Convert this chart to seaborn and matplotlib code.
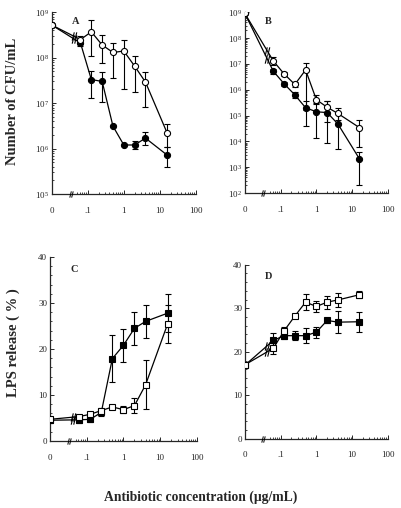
import numpy as np
import matplotlib
matplotlib.use("Agg")
import matplotlib.pyplot as plt
from matplotlib.path import Path
from matplotlib.ticker import FixedLocator, FixedFormatter, NullFormatter, MultipleLocator
import seaborn as sns

# concentrations (ug/mL); 0 = untreated control
conc = np.array([0, 0.0625, 0.125, 0.25, 0.5, 1, 2, 4, 16])

# Panel A - CFU/mL
a_filled = np.array([5.2e8, 2.1e8, 3.3e7, 3.0e7, 3.1e6, 1.2e6, 1.2e6, 1.7e6, 7.2e5])
a_filled_lo = np.array([5.2e8, 1.8e8, 1.3e7, 1.05e7, 3.1e6, 1.2e6, 1.0e6, 1.2e6, 4.0e5])
a_filled_hi = np.array([5.2e8, 2.5e8, 5.1e7, 4.9e7, 3.1e6, 1.2e6, 1.45e6, 2.3e6, 1.1e6])
a_open = np.array([5.2e8, 2.5e8, 3.7e8, 1.9e8, 1.3e8, 1.4e8, 6.5e7, 2.9e7, 2.2e6])
a_open_lo = np.array([5.2e8, 2.0e8, 1.1e8, 7.8e7, 3.5e7, 2.0e7, 1.8e7, 8.1e6, 1.1e6])
a_open_hi = np.array([5.2e8, 3.0e8, 6.6e8, 3.1e8, 2.1e8, 2.5e8, 1.07e8, 4.8e7, 3.5e6])

# Panel B - CFU/mL
b_filled = np.array([9.0e8, 5.2e6, 1.7e6, 6.3e5, 2.0e5, 1.4e5, 1.3e5, 4.7e4, 2.1e3])
b_filled_lo = np.array([9.0e8, 4.0e6, 1.4e6, 4.8e5, 3.8e4, 1.35e4, 8.5e3, 5.1e3, 2.0e2])
b_filled_hi = np.array([9.0e8, 6.5e6, 2.0e6, 8.0e5, 3.8e5, 2.9e5, 3.8e5, 1.2e5, 3.8e3])
b_open = np.array([9.0e8, 1.3e7, 4.1e6, 1.6e6, 5.8e6, 4.1e5, 2.1e5, 1.2e5, 3.4e4])
b_open_lo = np.array([9.0e8, 9.0e6, 3.5e6, 1.3e6, 1.6e5, 3.0e5, 5.5e4, 7.0e4, 6.0e3])
b_open_hi = np.array([9.0e8, 1.8e7, 4.8e6, 1.9e6, 1.1e7, 6.3e5, 3.8e5, 2.0e5, 6.5e4])

# Panel C - LPS release (%)
c_filled = np.array([4.5, 4.6, 4.7, 6.2, 17.9, 20.8, 24.5, 26.0, 27.8])
c_filled_sd = np.array([0.6, 0.7, 0.5, 0.8, 5.1, 3.6, 3.6, 3.6, 4.2])
c_open = np.array([4.7, 5.3, 5.8, 6.6, 7.4, 6.8, 7.7, 12.2, 25.5])
c_open_sd = np.array([0.4, 0.4, 0.4, 0.6, 0.5, 0.8, 1.7, 5.3, 4.1])

# Panel D - LPS release (%)
d_filled = np.array([16.9, 22.6, 23.7, 23.7, 23.7, 24.5, 27.2, 26.8, 26.9])
d_filled_sd = np.array([0.5, 1.8, 0.8, 1.0, 1.7, 1.3, 0.5, 2.6, 2.3])
d_open = np.array([17.0, 20.8, 24.8, 28.2, 31.4, 30.4, 31.4, 31.9, 33.1])
d_open_sd = np.array([0.5, 1.2, 0.8, 0.5, 1.9, 1.2, 1.5, 1.6, 0.8])

x_ticks = [0.01, 0.1, 1, 10, 100]
x_ticklabels = ["0", ".1", "1", "10", "100"]

sns.set_style("ticks")
plt.rcParams["font.family"] = ["Liberation Serif", "DejaVu Serif"]
plt.rcParams["mathtext.default"] = "regular"

ZERO_POS = 0.01  # where the "0" control sits on the log axis
xpos = np.where(conc == 0, ZERO_POS, conc)

# "//" break symbol as a marker path
BREAK = Path([(-0.55, -1), (-0.05, 1), (0.05, -1), (0.55, 1)],
             [Path.MOVETO, Path.LINETO, Path.MOVETO, Path.LINETO])

fig = plt.figure(figsize=(4.02, 5.08), dpi=100)
axA = fig.add_axes([0.129, 0.618, 0.358, 0.358])
axB = fig.add_axes([0.609, 0.620, 0.356, 0.356])
axC = fig.add_axes([0.124, 0.132, 0.366, 0.362])
axD = fig.add_axes([0.609, 0.136, 0.356, 0.343])


def draw_series(ax, y, lo, hi, marker, filled, logy):
    ax.errorbar(xpos, y, yerr=[y - lo, hi - y], fmt="none", ecolor="black",
                elinewidth=0.8, capsize=2, capthick=0.8, zorder=2)
    sns.lineplot(x=xpos, y=y, ax=ax, color="black", linewidth=0.9,
                 marker=marker, markersize=4.4 if marker == "o" else 4.2,
                 markerfacecolor="black" if filled else "white",
                 markeredgecolor="black", markeredgewidth=0.8,
                 sort=False, estimator=None, zorder=3 if filled else 4)
    # break mark on the segment from the control to the first dose
    xb = 0.042
    f = (np.log10(xb) - np.log10(xpos[0])) / (np.log10(xpos[1]) - np.log10(xpos[0]))
    if logy:
        yb = 10 ** (np.log10(y[0]) + f * (np.log10(y[1]) - np.log10(y[0])))
    else:
        yb = y[0] + f * (y[1] - y[0])
    ax.plot([xb], [yb], linestyle="none", marker=BREAK, markersize=6,
            markeredgecolor="black", markerfacecolor="none",
            markeredgewidth=0.8, zorder=5)


def style_axes(ax, letter, logy):
    ax.set_xscale("log")
    ax.set_xlim(ZERO_POS, 100)
    ax.xaxis.set_major_locator(FixedLocator(x_ticks[1:]))
    ax.xaxis.set_major_formatter(NullFormatter())
    minors = [k * 10.0 ** e for e in range(-2, 2) for k in range(2, 10)]
    ax.xaxis.set_minor_locator(FixedLocator([m for m in minors if m > 0.045]))
    ax.xaxis.set_minor_formatter(NullFormatter())
    for xv, lab in zip(x_ticks, x_ticklabels):
        ax.text(xv, -0.07, lab, transform=ax.get_xaxis_transform(),
                ha="center", va="top", fontsize=6.5)
    ax.plot([0.033], [0], transform=ax.get_xaxis_transform(), clip_on=False,
            linestyle="none", marker=BREAK, markersize=4.5,
            markeredgecolor="black", markerfacecolor="none",
            markeredgewidth=0.7, zorder=6)
    sns.despine(ax=ax)
    ax.tick_params(which="major", direction="in", length=3, width=0.7,
                   labelsize=6.5, pad=2)
    ax.tick_params(which="minor", direction="in", length=1.6, width=0.6)
    for s in ("left", "bottom"):
        ax.spines[s].set_linewidth(0.9)
    ax.text(0.14, 0.95 if logy else 0.93, letter, transform=ax.transAxes,
            fontsize=7.5, fontweight="bold", ha="left", va="center")


draw_series(axA, a_open, a_open_lo, a_open_hi, "o", False, True)
draw_series(axA, a_filled, a_filled_lo, a_filled_hi, "o", True, True)
draw_series(axB, b_open, b_open_lo, b_open_hi, "o", False, True)
draw_series(axB, b_filled, b_filled_lo, b_filled_hi, "o", True, True)
draw_series(axC, c_open, c_open - c_open_sd, c_open + c_open_sd, "s", False, False)
draw_series(axC, c_filled, c_filled - c_filled_sd, c_filled + c_filled_sd, "s", True, False)
draw_series(axD, d_open, d_open - d_open_sd, d_open + d_open_sd, "s", False, False)
draw_series(axD, d_filled, d_filled - d_filled_sd, d_filled + d_filled_sd, "s", True, False)

for ax, letter, (lo_e, hi_e) in [(axA, "A", (5, 9)), (axB, "B", (2, 9))]:
    ax.set_yscale("log")
    ax.set_ylim(10.0 ** lo_e, 10.0 ** hi_e)
    exps = list(range(lo_e, hi_e + 1))
    ax.yaxis.set_major_locator(FixedLocator([10.0 ** e for e in exps]))
    ax.yaxis.set_major_formatter(FixedFormatter(["10$^{%d}$" % e for e in exps]))
    ax.yaxis.set_minor_formatter(NullFormatter())
    style_axes(ax, letter, True)
    ax.set_xlabel("")
    ax.set_ylabel("")

for ax, letter in [(axC, "C"), (axD, "D")]:
    ax.set_ylim(0, 40)
    ax.yaxis.set_major_locator(MultipleLocator(10))
    ax.yaxis.set_minor_locator(MultipleLocator(2))
    style_axes(ax, letter, False)
    ax.set_xlabel("")
    ax.set_ylabel("")

fig.text(0.032, 0.80, "Number of CFU/mL", rotation=90, ha="center", va="center",
         fontsize=10.5, fontweight="bold")
fig.text(0.032, 0.325, "LPS release ( % )", rotation=90, ha="center", va="center",
         fontsize=10.5, fontweight="bold")
fig.text(0.50, 0.022, "Antibiotic concentration (\u03bcg/mL)", ha="center",
         va="center", fontsize=9.8, fontweight="bold")

fig.savefig("out.png", dpi=100)
